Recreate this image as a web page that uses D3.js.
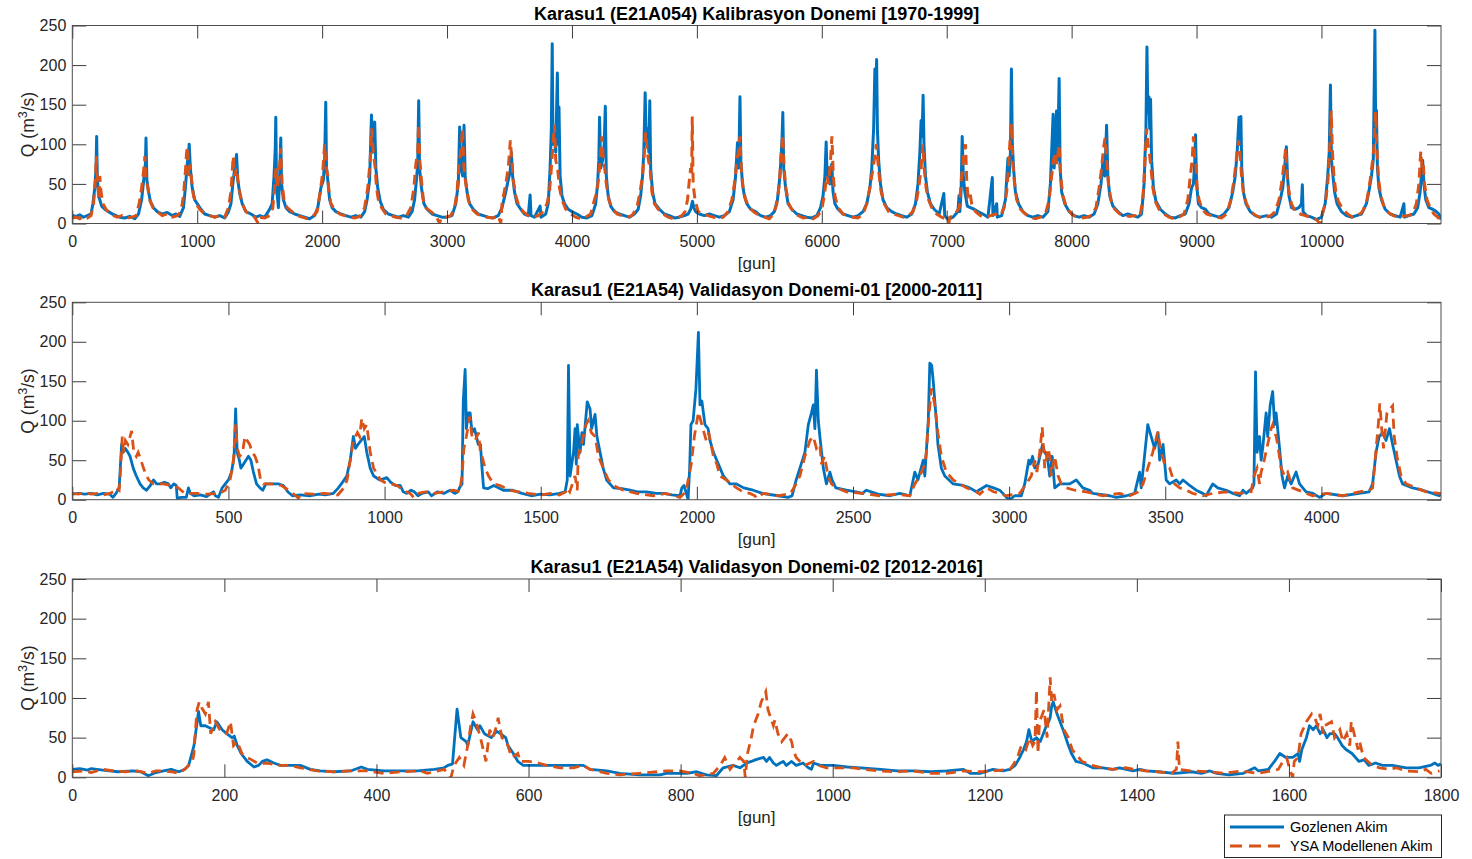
<!DOCTYPE html>
<html><head><meta charset="utf-8">
<script src="https://cdn.jsdelivr.net/npm/d3@7"></script>
<style>body{margin:0;background:#fff}svg{display:block;font-family:"Liberation Sans",Arial,Helvetica,sans-serif}</style>
</head><body><svg id="c" width="1472" height="859"></svg>
<script>
const titles = [
 "Karasu1 (E21A054) Kalibrasyon Donemi [1970-1999]",
 "Karasu1 (E21A54) Validasyon Donemi-01 [2000-2011]",
 "Karasu1 (E21A54) Validasyon Donemi-02 [2012-2016]"
];
const seriesNames = ["Gozlenen Akim","YSA Modellenen Akim"];
const xTicks1 = [0,1000,2000,3000,4000,5000,6000,7000,8000,9000,10000];
const xTicks2 = [0,500,1000,1500,2000,2500,3000,3500,4000];
const xTicks3 = [0,200,400,600,800,1000,1200,1400,1600,1800];
const yTicks = [0,50,100,150,200,250];
const xMax = [10957,4383,1800];

// Panel 1 observed [day, Q]
const obs1 = [[0,10],[30,9],[60,11],[90,8],[120,10],[150,12],[165,25],[180,45],[190,70],[195,110],[200,60],[210,35],[220,30],[235,22],[260,18],[290,15],[320,12],[350,10],[380,8],[420,7],[460,9],[500,6],[530,12],[555,30],[575,60],[585,75],[590,108],[597,55],[610,40],[625,28],[650,20],[680,15],[720,12],[760,14],[800,10],[830,12],[860,9],[890,20],[905,45],[920,75],[930,90],[936,100],[945,70],[960,45],[980,30],[1000,25],[1030,18],[1060,12],[1100,10],[1140,8],[1180,10],[1220,7],[1250,15],[1270,25],[1285,50],[1300,70],[1315,87],[1325,55],[1340,38],[1360,25],[1390,15],[1430,12],[1470,8],[1500,10],[1540,8],[1580,18],[1600,25],[1615,60],[1625,95],[1629,134],[1635,45],[1650,20],[1660,60],[1669,108],[1675,50],[1690,30],[1710,20],[1740,15],[1780,12],[1820,10],[1860,8],[1900,6],[1940,10],[1965,20],[1990,45],[2010,55],[2020,80],[2029,153],[2035,70],[2045,55],[2060,30],[2080,20],[2110,15],[2150,12],[2190,10],[2230,8],[2270,10],[2310,8],[2340,15],[2360,30],[2380,55],[2390,110],[2395,137],[2405,90],[2413,110],[2421,128],[2430,70],[2445,45],[2465,28],[2490,18],[2530,12],[2570,10],[2610,8],[2650,10],[2690,8],[2720,15],[2740,30],[2755,55],[2765,75],[2773,155],[2780,70],[2795,45],[2815,25],[2840,18],[2880,12],[2920,10],[2960,8],[3000,8],[3040,10],[3070,25],[3090,50],[3101,122],[3110,70],[3125,60],[3136,124],[3145,60],[3160,40],[3180,25],[3210,18],[3250,12],[3290,10],[3330,8],[3370,7],[3410,10],[3440,20],[3470,40],[3490,55],[3505,65],[3515,90],[3525,60],[3540,40],[3560,25],[3590,18],[3620,12],[3650,10],[3665,36],[3672,10],[3700,8],[3745,22],[3752,8],[3790,12],[3810,25],[3825,70],[3835,120],[3842,227],[3848,100],[3860,110],[3870,90],[3883,190],[3890,100],[3896,147],[3905,60],[3920,35],[3940,25],[3970,18],[4000,15],[4040,12],[4080,8],[4120,7],[4160,10],[4190,25],[4205,50],[4215,80],[4221,134],[4230,70],[4245,80],[4258,100],[4267,148],[4275,60],[4290,35],[4310,22],[4340,15],[4380,12],[4420,10],[4460,8],[4500,12],[4530,18],[4550,35],[4565,60],[4575,90],[4586,165],[4595,100],[4605,120],[4615,90],[4623,155],[4630,70],[4645,40],[4665,25],[4700,18],[4740,12],[4780,10],[4820,7],[4860,8],[4900,10],[4930,12],[4950,18],[4965,28],[4975,20],[4990,15],[5020,12],[5060,10],[5100,12],[5140,10],[5180,8],[5220,10],[5260,15],[5290,30],[5310,60],[5325,102],[5335,70],[5345,160],[5352,80],[5365,50],[5380,35],[5400,25],[5430,18],[5470,15],[5510,10],[5550,8],[5590,10],[5620,15],[5645,30],[5665,60],[5680,100],[5688,140],[5695,70],[5710,45],[5730,25],[5760,18],[5800,12],[5840,10],[5880,8],[5920,7],[5960,10],[5990,20],[6010,35],[6025,60],[6035,103],[6042,60],[6055,70],[6065,50],[6080,75],[6090,40],[6105,25],[6130,18],[6170,12],[6210,10],[6250,8],[6290,10],[6330,15],[6360,25],[6385,45],[6400,70],[6415,120],[6425,195],[6432,150],[6439,207],[6445,120],[6455,80],[6470,50],[6490,30],[6520,20],[6560,15],[6600,12],[6640,10],[6680,8],[6720,12],[6750,25],[6770,50],[6785,90],[6795,130],[6803,110],[6811,162],[6818,100],[6830,60],[6845,40],[6870,25],[6900,18],[6940,12],[6977,38],[6984,10],[7010,5],[7050,8],[7090,15],[7098,35],[7105,15],[7115,40],[7124,110],[7133,60],[7145,40],[7165,22],[7190,20],[7220,18],[7250,15],[7290,12],[7330,8],[7365,58],[7370,10],[7400,25],[7405,8],[7440,10],[7470,30],[7490,82],[7500,60],[7510,90],[7518,195],[7525,103],[7535,70],[7550,40],[7575,25],[7610,15],[7650,10],[7690,8],[7730,10],[7770,8],[7810,15],[7830,50],[7845,110],[7852,138],[7860,70],[7870,100],[7879,142],[7888,80],[7900,183],[7908,70],[7920,40],[7945,25],[7980,15],[8020,10],[8060,8],[8100,10],[8140,8],[8180,12],[8210,25],[8235,50],[8250,78],[8265,60],[8280,124],[8290,60],[8305,35],[8330,22],[8370,15],[8410,10],[8450,12],[8490,10],[8530,8],[8560,12],[8580,50],[8595,120],[8603,223],[8610,140],[8618,160],[8625,120],[8632,157],[8640,80],[8655,45],[8675,28],[8710,18],[8750,12],[8790,8],[8830,7],[8870,10],[8910,12],[8940,25],[8960,45],[8975,50],[8985,75],[8992,112],[9000,50],[9015,25],[9040,20],[9070,18],[9100,12],[9140,10],[9180,8],[9220,12],[9260,20],[9290,40],[9310,60],[9325,90],[9340,134],[9345,100],[9355,135],[9362,70],[9375,40],[9395,25],[9430,15],[9470,10],[9510,8],[9560,10],[9600,8],[9640,12],[9670,30],[9690,45],[9705,70],[9719,97],[9728,60],[9740,35],[9760,20],[9790,18],[9820,20],[9840,25],[9847,49],[9853,15],[9880,10],[9920,8],[9960,5],[10000,8],[10030,25],[10050,60],[10062,90],[10072,175],[10080,80],[10092,60],[10105,40],[10125,25],[10160,15],[10200,10],[10240,8],[10280,10],[10320,12],[10360,25],[10385,45],[10400,60],[10415,80],[10428,244],[10433,140],[10440,143],[10448,70],[10460,45],[10480,30],[10510,18],[10550,12],[10590,10],[10630,8],[10660,25],[10665,8],[10700,10],[10740,12],[10770,20],[10790,40],[10800,60],[10810,80],[10820,50],[10835,30],[10860,20],[10890,18],[10920,15],[10940,12],[10957,5]];

// Panel 1 modelled [day, Q]
const sim1 = [[0,7],[30,8],[60,6],[90,9],[120,7],[150,10],[170,25],[185,55],[192,85],[198,60],[205,55],[212,30],[220,60],[230,40],[245,25],[270,18],[300,12],[330,10],[360,8],[400,10],[440,7],[480,8],[510,10],[535,25],[555,45],[570,65],[581,85],[592,55],[605,45],[620,30],[645,20],[680,15],[720,10],[760,12],[800,8],[840,10],[870,15],[890,35],[905,65],[915,90],[922,97],[932,60],[945,75],[955,55],[970,35],[990,25],[1020,18],[1060,12],[1100,10],[1140,8],[1180,10],[1220,8],[1250,20],[1270,40],[1288,85],[1300,60],[1315,70],[1325,55],[1340,40],[1360,25],[1390,15],[1430,10],[1460,8],[1488,0],[1500,8],[1540,7],[1580,10],[1605,20],[1620,45],[1630,70],[1640,45],[1655,60],[1668,95],[1680,50],[1695,30],[1720,20],[1760,15],[1800,10],[1840,8],[1880,6],[1920,8],[1960,15],[1985,40],[2005,65],[2020,100],[2030,75],[2045,60],[2055,40],[2070,25],[2100,18],[2140,12],[2180,10],[2220,8],[2260,7],[2300,9],[2340,20],[2365,45],[2385,80],[2397,120],[2410,90],[2425,70],[2435,45],[2450,30],[2475,20],[2510,12],[2550,10],[2590,8],[2630,7],[2670,8],[2710,20],[2735,45],[2750,75],[2765,90],[2772,125],[2782,80],[2795,55],[2810,30],[2830,20],[2870,15],[2910,10],[2941,0],[2950,7],[2990,8],[3030,10],[3060,20],[3080,40],[3095,75],[3110,90],[3124,120],[3135,70],[3150,50],[3170,30],[3200,18],[3240,12],[3280,10],[3320,8],[3370,7],[3410,10],[3430,0],[3440,25],[3470,50],[3490,70],[3507,105],[3518,80],[3530,55],[3550,35],[3575,22],[3610,15],[3650,10],[3690,8],[3730,10],[3770,15],[3800,25],[3820,40],[3835,70],[3848,100],[3860,125],[3870,80],[3885,70],[3900,45],[3920,30],[3950,18],[3990,12],[4030,8],[4070,6],[4110,8],[4150,12],[4180,30],[4200,40],[4215,60],[4228,85],[4240,110],[4250,85],[4262,70],[4275,50],[4295,30],[4320,20],[4360,12],[4400,10],[4440,8],[4480,10],[4520,20],[4545,40],[4565,60],[4580,90],[4590,115],[4600,95],[4612,80],[4625,70],[4640,40],[4660,25],[4690,18],[4730,12],[4770,8],[4810,6],[4850,8],[4880,10],[4905,15],[4925,30],[4940,55],[4950,70],[4958,60],[4963,135],[4970,50],[4985,30],[5010,15],[5050,12],[5090,10],[5130,8],[5170,6],[5210,8],[5250,15],[5280,30],[5305,55],[5320,80],[5332,90],[5345,110],[5355,70],[5370,45],[5390,30],[5420,20],[5460,14],[5500,10],[5540,8],[5580,6],[5615,12],[5640,25],[5660,50],[5675,90],[5688,112],[5698,70],[5712,45],[5735,25],[5770,15],[5810,10],[5850,7],[5890,8],[5930,6],[5970,10],[6000,18],[6020,35],[6040,60],[6055,50],[6070,80],[6081,110],[6092,60],[6105,35],[6130,20],[6170,12],[6210,10],[6250,8],[6290,7],[6330,12],[6360,25],[6390,50],[6410,70],[6425,85],[6437,100],[6448,80],[6460,60],[6475,40],[6500,25],[6535,15],[6575,12],[6615,10],[6655,8],[6695,10],[6730,15],[6760,30],[6780,50],[6795,70],[6808,100],[6820,70],[6835,45],[6855,30],[6880,20],[6920,12],[6960,8],[7000,5],[7017,0],[7025,8],[7060,10],[7100,20],[7120,60],[7135,85],[7151,100],[7160,55],[7170,35],[7185,40],[7200,25],[7230,15],[7270,10],[7310,8],[7350,10],[7390,12],[7430,10],[7460,20],[7480,40],[7495,70],[7505,100],[7518,126],[7528,80],[7540,55],[7560,30],[7590,18],[7630,12],[7670,8],[7710,6],[7750,8],[7790,12],[7820,30],[7840,60],[7855,80],[7870,90],[7880,75],[7900,100],[7912,60],[7930,35],[7960,20],[8000,12],[8040,8],[8080,7],[8120,8],[8160,10],[8195,20],[8220,45],[8240,70],[8255,95],[8268,108],[8282,80],[8295,50],[8315,30],[8345,18],[8385,12],[8425,10],[8465,9],[8505,10],[8545,8],[8570,30],[8585,70],[8600,120],[8612,100],[8622,90],[8635,70],[8650,45],[8670,28],[8700,18],[8740,12],[8780,8],[8820,6],[8860,8],[8900,12],[8930,30],[8950,60],[8965,80],[8975,110],[8985,80],[8995,75],[9005,45],[9020,30],[9045,18],[9080,12],[9120,10],[9160,8],[9200,7],[9240,12],[9275,30],[9300,55],[9318,80],[9336,105],[9348,90],[9360,60],[9375,40],[9400,25],[9435,15],[9475,10],[9515,7],[9555,8],[9595,10],[9630,15],[9660,30],[9680,50],[9700,75],[9714,95],[9725,60],[9740,40],[9760,25],[9790,15],[9830,12],[9870,10],[9910,8],[9950,6],[9990,0],[10000,8],[10030,25],[10050,50],[10065,90],[10078,142],[10088,90],[10100,60],[10115,40],[10135,28],[10170,18],[10210,12],[10250,8],[10290,10],[10330,15],[10365,30],[10390,55],[10410,80],[10422,100],[10433,141],[10445,90],[10458,55],[10475,35],[10500,22],[10535,14],[10575,10],[10615,8],[10655,9],[10695,10],[10730,12],[10760,25],[10780,50],[10795,91],[10805,70],[10815,75],[10825,50],[10845,30],[10870,20],[10900,12],[10930,8],[10957,3]];

// Panel 2 observed
const obs2 = [[0,7],[20,8],[40,7],[60,8],[80,6],[100,8],[120,7],[130,3],[140,8],[150,15],[155,50],[158,70],[163,60],[170,65],[178,60],[185,55],[195,40],[205,30],[217,20],[227,15],[238,12],[250,18],[260,25],[270,20],[281,20],[295,22],[308,20],[315,15],[325,20],[333,18],[336,2],[350,3],[365,3],[372,15],[378,8],[390,5],[410,6],[430,4],[452,10],[458,5],[468,3],[480,15],[490,20],[500,25],[510,35],[518,55],[523,115],[528,60],[535,50],[540,40],[548,45],[556,50],[564,55],[572,50],[580,35],[590,20],[601,15],[610,12],[620,20],[640,20],[660,20],[676,18],[690,10],[705,5],[730,6],[760,5],[790,7],[810,6],[836,8],[852,15],[865,22],[879,30],[890,50],[900,80],[907,65],[915,70],[925,75],[935,80],[943,60],[954,40],[965,30],[985,25],[1007,28],[1020,22],[1035,18],[1050,18],[1060,10],[1071,8],[1085,12],[1095,10],[1107,5],[1120,8],[1140,10],[1150,5],[1170,10],[1190,8],[1200,10],[1210,12],[1225,8],[1235,10],[1240,15],[1248,20],[1252,125],[1258,165],[1262,90],[1268,110],[1274,110],[1280,85],[1288,90],[1300,70],[1307,70],[1312,40],[1317,15],[1330,14],[1350,18],[1380,12],[1410,12],[1440,8],[1470,5],[1500,7],[1530,6],[1560,8],[1578,10],[1585,25],[1589,170],[1594,30],[1605,60],[1610,90],[1614,45],[1617,95],[1626,60],[1632,85],[1637,70],[1649,124],[1658,115],[1663,90],[1674,108],[1680,80],[1690,60],[1700,40],[1711,25],[1733,15],[1760,14],[1786,12],[1810,10],[1839,10],[1870,8],[1893,8],[1920,6],[1946,5],[1952,15],[1959,18],[1965,10],[1972,0],[1977,40],[1981,95],[1988,100],[1997,140],[2005,212],[2010,120],[2016,125],[2026,95],[2036,90],[2042,75],[2053,60],[2069,45],[2085,30],[2106,20],[2127,20],[2150,15],[2180,12],[2210,8],[2260,5],[2292,3],[2305,5],[2318,25],[2330,40],[2346,60],[2357,95],[2367,110],[2373,120],[2378,90],[2383,164],[2389,100],[2394,80],[2405,40],[2415,20],[2426,35],[2433,25],[2445,15],[2479,12],[2510,10],[2530,8],[2543,12],[2580,7],[2618,5],[2650,8],[2682,5],[2698,35],[2708,25],[2725,50],[2730,30],[2741,100],[2746,173],[2752,170],[2757,150],[2767,100],[2772,70],[2783,40],[2794,30],[2821,20],[2853,18],[2874,15],[2895,10],[2928,18],[2950,15],[2970,12],[2980,8],[2991,3],[3002,0],[3018,5],[3039,5],[3050,20],[3063,50],[3068,45],[3075,55],[3082,40],[3093,45],[3107,70],[3114,60],[3122,55],[3130,30],[3138,55],[3146,15],[3162,20],[3194,20],[3215,25],[3236,15],[3258,12],[3268,8],[3322,5],[3343,3],[3375,5],[3402,8],[3418,35],[3423,15],[3444,95],[3455,80],[3466,65],[3477,85],[3482,50],[3493,70],[3503,25],[3514,20],[3535,25],[3546,20],[3557,25],[3578,18],[3599,12],[3620,8],[3631,5],[3652,20],[3668,15],[3695,12],[3717,8],[3738,5],[3749,12],[3759,8],[3780,15],[3784,20],[3789,162],[3794,60],[3802,80],[3807,50],[3812,65],[3823,110],[3828,80],[3836,120],[3844,137],[3850,95],[3855,110],[3866,65],[3874,30],[3882,15],[3892,30],[3903,20],[3919,35],[3930,20],[3951,10],[3973,8],[3994,3],[4015,8],[4068,5],[4121,8],[4153,10],[4164,20],[4175,60],[4185,80],[4196,85],[4207,75],[4218,90],[4228,70],[4239,50],[4250,30],[4260,20],[4292,15],[4324,12],[4356,8],[4377,5],[4383,7]];

// Panel 2 modelled
const sim2 = [[0,8],[20,7],[40,9],[60,7],[80,8],[100,6],[120,8],[132,10],[140,15],[150,12],[155,40],[160,80],[165,60],[170,75],[178,70],[185,80],[190,87],[197,60],[205,55],[211,60],[220,50],[228,40],[238,30],[245,25],[260,20],[290,20],[320,18],[340,15],[360,8],[400,8],[430,7],[470,8],[490,12],[505,25],[515,45],[523,95],[528,65],[536,55],[545,60],[553,80],[560,75],[568,70],[576,60],[585,55],[594,45],[603,25],[612,20],[640,20],[670,18],[700,10],[724,2],[735,8],[770,7],[810,8],[850,6],[870,15],[880,25],[890,50],[900,75],[913,85],[920,80],[927,103],[935,90],[943,95],[954,60],[965,40],[987,25],[1000,22],[1019,20],[1040,18],[1050,15],[1070,10],[1082,8],[1093,3],[1105,8],[1130,10],[1160,8],[1190,10],[1220,12],[1240,10],[1248,30],[1254,65],[1262,80],[1272,105],[1280,80],[1290,75],[1301,85],[1307,60],[1312,55],[1322,40],[1333,30],[1349,20],[1370,18],[1400,12],[1430,10],[1460,8],[1500,6],[1530,8],[1560,6],[1580,10],[1585,15],[1593,10],[1610,30],[1617,12],[1620,55],[1630,70],[1645,95],[1652,100],[1662,85],[1674,80],[1685,55],[1700,40],[1717,25],[1733,18],[1764,12],[1807,8],[1860,5],[1900,8],[1946,3],[1965,10],[1982,45],[1992,80],[2005,111],[2016,95],[2030,75],[2038,85],[2053,55],[2064,45],[2074,30],[2095,25],[2127,15],[2148,10],[2170,8],[2186,5],[2191,2],[2213,8],[2260,5],[2300,8],[2318,20],[2330,30],[2346,55],[2362,75],[2373,80],[2383,65],[2394,70],[2399,45],[2409,55],[2420,30],[2431,20],[2447,15],[2479,10],[2530,8],[2585,5],[2640,7],[2682,5],[2698,20],[2714,30],[2730,45],[2735,60],[2741,95],[2751,141],[2762,120],[2772,85],[2783,55],[2799,35],[2821,25],[2863,15],[2895,10],[2906,7],[2928,15],[2950,10],[2970,8],[2991,5],[3034,8],[3055,20],[3071,30],[3082,50],[3089,35],[3098,60],[3106,92],[3114,40],[3125,65],[3130,55],[3135,30],[3146,55],[3157,30],[3167,20],[3183,15],[3210,12],[3247,10],[3268,8],[3300,5],[3354,8],[3386,5],[3413,10],[3429,20],[3444,40],[3460,60],[3476,86],[3487,60],[3498,45],[3514,40],[3530,20],[3546,15],[3567,12],[3588,8],[3620,5],[3652,8],[3695,10],[3740,8],[3775,10],[3784,30],[3794,40],[3802,20],[3807,35],[3814,45],[3828,70],[3839,90],[3844,95],[3855,80],[3860,70],[3871,40],[3882,30],[3892,35],[3908,15],[3940,10],[3972,5],[4015,8],[4068,5],[4121,10],[4153,12],[4164,15],[4172,50],[4183,99],[4187,122],[4193,90],[4199,65],[4210,110],[4228,119],[4233,80],[4242,55],[4255,30],[4271,20],[4303,15],[4335,10],[4378,8],[4383,8]];

// Panel 3 observed
const obs3 = [[0,10],[10,11],[20,9],[25,11],[40,9],[60,7],[80,8],[90,7],[100,2],[110,6],[120,8],[130,10],[140,7],[148,10],[153,15],[160,40],[166,83],[169,65],[175,65],[179,63],[186,60],[190,70],[197,60],[203,55],[210,50],[213,52],[217,40],[222,30],[230,20],[239,13],[245,15],[250,20],[256,22],[265,18],[274,15],[287,15],[300,15],[313,10],[326,8],[344,7],[366,8],[380,13],[388,10],[410,8],[432,8],[454,8],[476,10],[489,12],[494,15],[500,17],[506,86],[511,50],[518,45],[520,40],[527,70],[533,60],[536,65],[542,55],[551,50],[558,58],[563,55],[570,50],[573,40],[580,30],[586,20],[593,15],[600,15],[624,15],[659,15],[672,15],[681,10],[703,8],[720,5],[746,3],[773,3],[781,5],[808,5],[821,7],[834,3],[847,2],[856,12],[869,15],[878,12],[887,18],[893,20],[898,22],[909,25],[913,20],[917,25],[922,18],[926,15],[931,18],[935,20],[939,15],[946,20],[952,15],[961,18],[968,12],[972,10],[975,18],[984,15],[1001,15],[1019,13],[1037,12],[1063,10],[1085,8],[1107,8],[1129,7],[1150,8],[1172,10],[1181,5],[1194,5],[1204,8],[1211,10],[1224,8],[1233,10],[1240,15],[1246,25],[1251,35],[1255,45],[1258,60],[1262,45],[1268,50],[1273,45],[1277,55],[1281,65],[1284,70],[1286,75],[1288,90],[1290,95],[1295,80],[1299,70],[1303,60],[1310,40],[1314,30],[1320,20],[1329,18],[1342,12],[1355,12],[1368,10],[1377,12],[1395,8],[1404,10],[1413,8],[1428,7],[1450,5],[1472,7],[1485,5],[1496,8],[1505,5],[1521,3],[1540,5],[1555,12],[1560,8],[1573,10],[1581,20],[1588,30],[1596,25],[1605,25],[1612,30],[1614,20],[1617,35],[1623,50],[1627,65],[1632,60],[1636,65],[1641,55],[1645,60],[1650,50],[1654,55],[1660,55],[1664,50],[1670,40],[1675,35],[1683,30],[1692,20],[1699,22],[1705,15],[1714,18],[1723,15],[1736,15],[1754,12],[1771,12],[1786,15],[1792,18],[1796,15],[1800,17]];

// Panel 3 modelled
const sim3 = [[0,7],[15,8],[25,6],[40,10],[55,8],[70,7],[85,8],[100,5],[110,8],[120,8],[130,7],[140,5],[150,12],[158,20],[160,30],[162,60],[164,85],[167,95],[170,88],[175,80],[179,95],[182,55],[188,70],[194,60],[203,55],[208,70],[212,40],[217,45],[223,30],[230,25],[236,22],[243,18],[247,17],[256,18],[270,15],[287,15],[300,12],[322,8],[344,7],[366,8],[388,8],[410,5],[432,7],[458,8],[467,5],[489,10],[498,0],[502,15],[509,25],[515,15],[520,40],[524,65],[527,80],[531,70],[538,45],[544,20],[549,60],[553,50],[558,65],[560,75],[565,50],[571,45],[578,25],[586,30],[589,20],[600,20],[613,18],[624,15],[641,12],[659,12],[672,15],[681,10],[703,5],[720,3],[746,5],[781,8],[799,8],[817,5],[825,2],[843,5],[852,15],[858,25],[865,10],[878,25],[883,20],[885,0],[888,30],[893,50],[896,65],[902,80],[906,95],[912,108],[915,85],[922,65],[924,72],[928,55],[933,45],[937,50],[941,55],[946,45],[948,35],[952,25],[957,20],[963,15],[975,20],[981,15],[992,12],[1009,12],[1027,12],[1040,10],[1062,8],[1084,7],[1106,8],[1128,5],[1150,5],[1172,8],[1194,7],[1211,8],[1233,10],[1237,15],[1243,25],[1248,40],[1254,35],[1259,50],[1263,40],[1266,45],[1268,110],[1270,30],[1272,70],[1278,85],[1282,50],[1286,126],[1288,95],[1291,105],[1295,85],[1299,90],[1304,60],[1310,50],[1315,35],[1319,30],[1328,20],[1341,15],[1355,12],[1368,10],[1385,12],[1398,10],[1411,8],[1428,7],[1446,5],[1452,10],[1454,45],[1456,10],[1471,8],[1493,7],[1515,5],[1537,8],[1559,5],[1577,8],[1586,10],[1592,20],[1597,25],[1601,10],[1605,0],[1607,20],[1612,25],[1616,55],[1623,70],[1630,80],[1634,75],[1638,65],[1641,80],[1645,55],[1647,65],[1656,70],[1660,50],[1667,60],[1671,45],[1676,55],[1680,40],[1682,70],[1687,50],[1691,35],[1693,45],[1698,25],[1704,20],[1710,15],[1719,12],[1732,10],[1741,12],[1754,8],[1771,7],[1780,10],[1787,5],[1798,8]];

const BLUE = "#0072BD", ORANGE = "#D95319", INK = "#262626";
const FONT = '"Liberation Sans", Arial, Helvetica, sans-serif';
const svg = d3.select("#c");
svg.append("rect").attr("width",1472).attr("height",859).attr("fill","#fff");

const L = 72.3, R = 1441;
const panels = [
 {obs: obs1, sim: sim1, xt: xTicks1, xmax: xMax[0], title: titles[0], top: 25.5, bottom: 223.5, lw: 3},
 {obs: obs2, sim: sim2, xt: xTicks2, xmax: xMax[1], title: titles[1], top: 302.3, bottom: 499.7, lw: 2.8},
 {obs: obs3, sim: sim3, xt: xTicks3, xmax: xMax[2], title: titles[2], top: 579, bottom: 777.3, lw: 2.8}
];

panels.forEach((p, i) => {
  const x = d3.scaleLinear().domain([0, p.xmax]).range([L, R]);
  const y = d3.scaleLinear().domain([0, 250]).range([p.bottom, p.top]);
  const g = svg.append("g");
  const cid = "clip" + i;
  svg.append("clipPath").attr("id", cid).append("rect")
    .attr("x", L).attr("y", p.top).attr("width", R - L).attr("height", p.bottom - p.top);

  const line = d3.line().x(d => x(d[0])).y(d => y(d[1]));
  const lg = g.append("g").attr("clip-path", `url(#${cid})`);
  lg.append("path").datum(p.obs).attr("d", line).attr("fill","none")
    .attr("stroke", BLUE).attr("stroke-width", p.lw).attr("stroke-linejoin","round");
  lg.append("path").datum(p.sim).attr("d", line).attr("fill","none")
    .attr("stroke", ORANGE).attr("stroke-width", p.lw).attr("stroke-dasharray","10,6");

  const styleAxis = sel => {
    sel.select(".domain").remove();
    sel.selectAll("line").attr("stroke", INK).attr("stroke-width", 0.9);
    sel.selectAll("text").attr("fill", INK).style("font-size","16px").style("font-family", FONT);
  };
  g.append("g").attr("transform", `translate(0,${p.bottom})`)
    .call(d3.axisBottom(x).tickValues(p.xt).tickFormat(d3.format("d")).tickSizeInner(-13).tickSizeOuter(0).tickPadding(12))
    .call(styleAxis);
  g.append("g").attr("transform", `translate(0,${p.top})`)
    .call(d3.axisTop(x).tickValues(p.xt).tickFormat("").tickSizeInner(-13).tickSizeOuter(0))
    .call(styleAxis);
  g.append("g").attr("transform", `translate(${L},0)`)
    .call(d3.axisLeft(y).tickValues(yTicks).tickSizeInner(-14).tickSizeOuter(0).tickPadding(6))
    .call(styleAxis);
  g.append("g").attr("transform", `translate(${R},0)`)
    .call(d3.axisRight(y).tickValues(yTicks).tickFormat("").tickSizeInner(-14).tickSizeOuter(0))
    .call(styleAxis);
  g.append("rect").attr("x", L).attr("y", p.top).attr("width", R - L).attr("height", p.bottom - p.top)
    .attr("fill","none").attr("stroke","#4d4d4d").attr("stroke-width",1);

  g.append("text").attr("x", (L + R) / 2).attr("y", p.top - 6).attr("text-anchor","middle")
    .style("font-family", FONT).style("font-size","18px").style("font-weight","bold").attr("fill","#000")
    .text(p.title);
  g.append("text").attr("x", (L + R) / 2).attr("y", p.bottom + 45.5).attr("text-anchor","middle")
    .style("font-family", FONT).style("font-size","17px").attr("fill", INK).text("[gun]");
  const yl = g.append("text").attr("transform", `translate(33.5,${(p.top + p.bottom) / 2}) rotate(-90)`)
    .attr("text-anchor","middle").style("font-family", FONT).style("font-size","17.5px").attr("fill", INK);
  yl.append("tspan").text("Q (m");
  yl.append("tspan").attr("dy", -7).style("font-size","12.5px").text("3");
  yl.append("tspan").attr("dy", 7).text("/s)");
});

const lg = svg.append("g");
lg.append("rect").attr("x", 1224.5).attr("y", 815).attr("width", 217).attr("height", 42.5)
  .attr("fill","#fff").attr("stroke","#262626").attr("stroke-width",1);
[[BLUE, null, seriesNames[0], 827], [ORANGE, "12,7", seriesNames[1], 846]].forEach(([c, dash, label, yy]) => {
  const ln = lg.append("line").attr("x1", 1230).attr("x2", 1284).attr("y1", yy).attr("y2", yy)
    .attr("stroke", c).attr("stroke-width", 2.8);
  if (dash) ln.attr("stroke-dasharray", dash);
  lg.append("text").attr("x", 1290).attr("y", yy + 5).style("font-family", FONT).style("font-size","14.5px")
    .attr("fill","#000").text(label);
});
</script></body></html>
